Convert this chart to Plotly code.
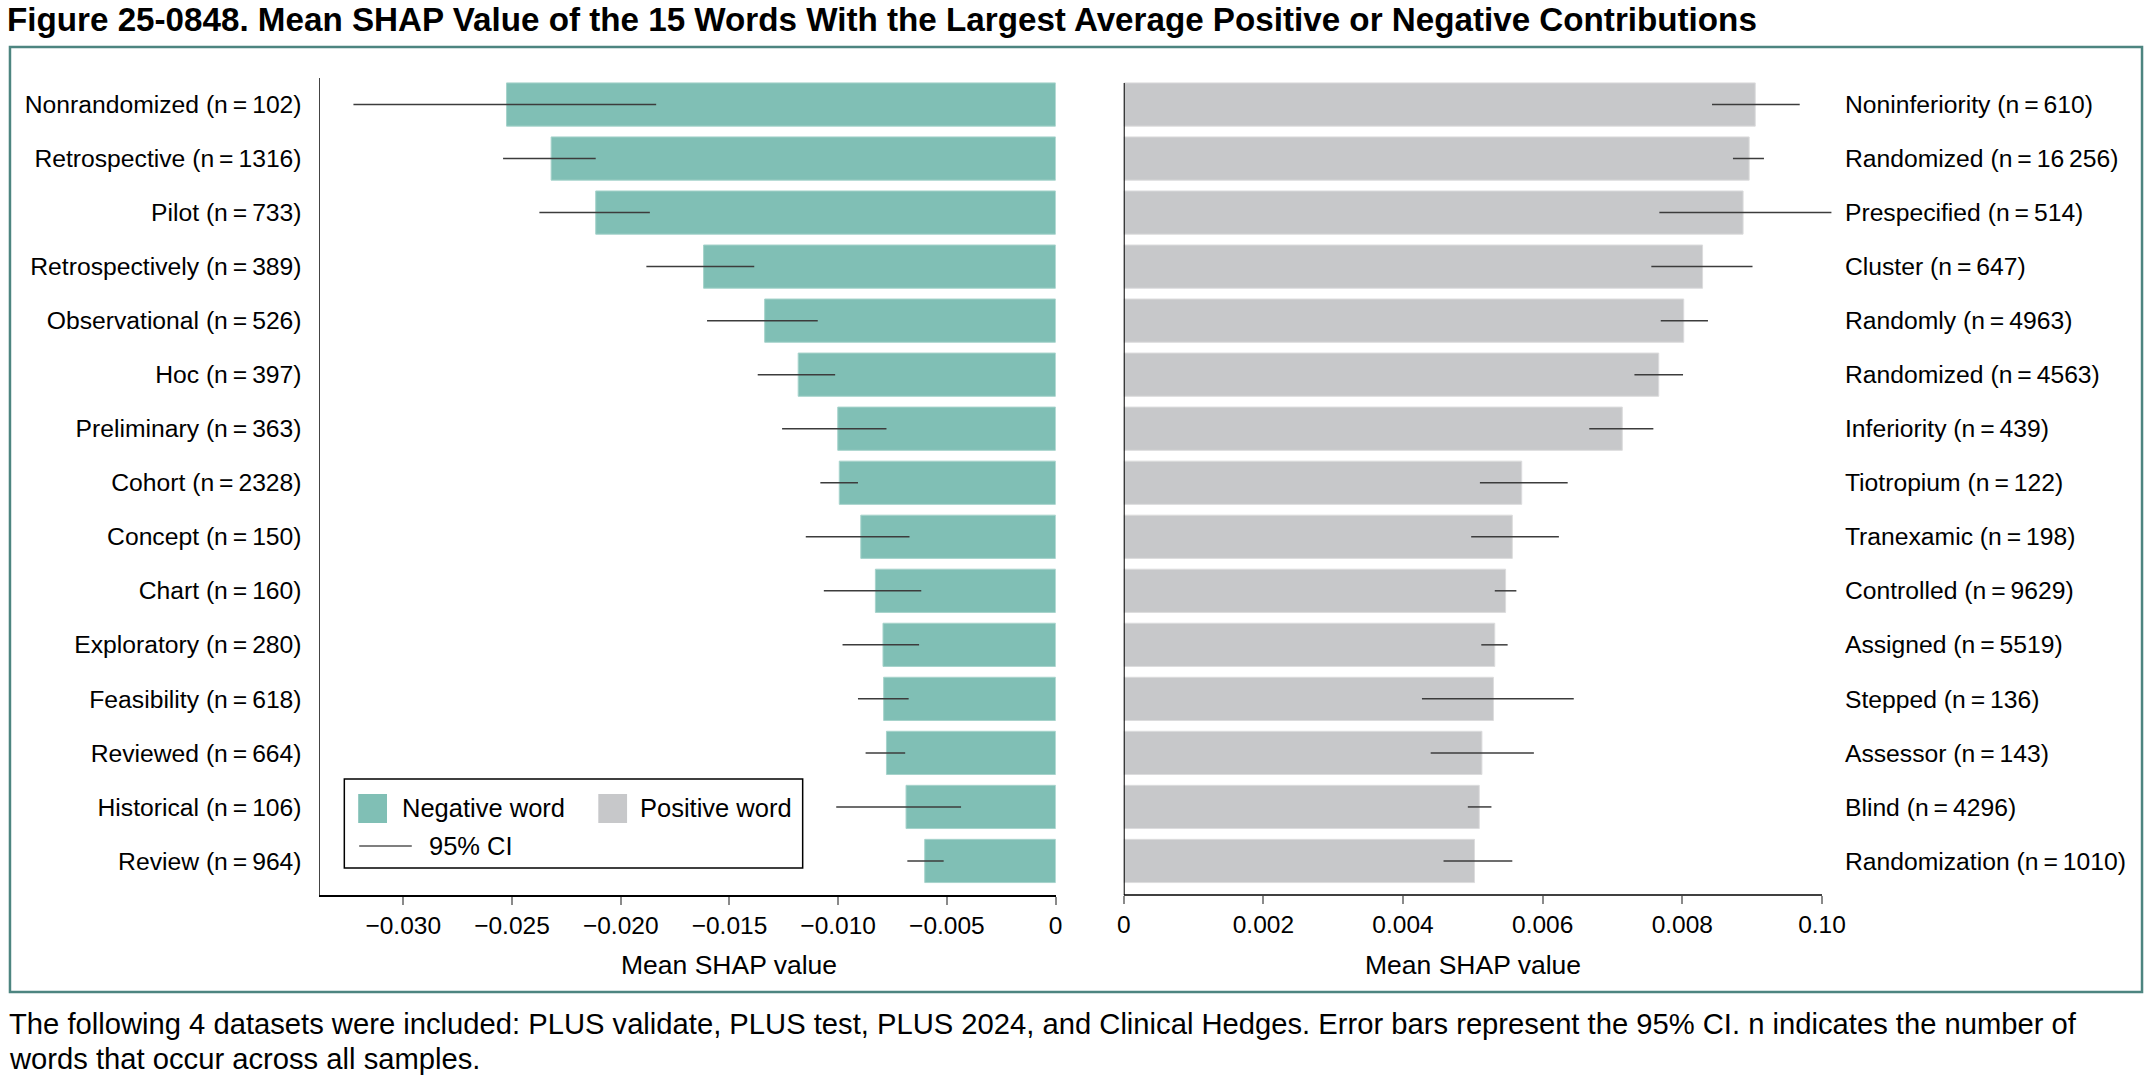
import plotly.graph_objects as go

W, H = 2155, 1077
FONT = "Liberation Sans, Arial, Helvetica, sans-serif"
TS = "\u2009"

# ---- data ----
neg_words = ["Nonrandomized", "Retrospective", "Pilot", "Retrospectively", "Observational",
             "Hoc", "Preliminary", "Cohort", "Concept", "Chart", "Exploratory",
             "Feasibility", "Reviewed", "Historical", "Review"]
neg_n = ["102", "1316", "733", "389", "526", "397", "363", "2328", "150", "160", "280",
         "618", "664", "106", "964"]
neg_mean = [-0.02525, -0.0232, -0.02115, -0.01619, -0.01338, -0.01184, -0.01002, -0.00995,
            -0.00896, -0.00829, -0.00794, -0.00791, -0.00778, -0.00688, -0.00602]
neg_lo = [-0.03229, -0.02541, -0.02374, -0.01882, -0.01603, -0.0137, -0.01258, -0.01082,
          -0.01149, -0.01066, -0.0098, -0.00909, -0.00874, -0.01009, -0.00682]
neg_hi = [-0.01837, -0.02115, -0.01866, -0.01386, -0.01094, -0.01014, -0.00778, -0.00909,
          -0.00672, -0.00618, -0.00628, -0.00676, -0.00692, -0.00435, -0.00515]

pos_words = ["Noninferiority", "Randomized", "Prespecified", "Cluster", "Randomly",
             "Randomized", "Inferiority", "Tiotropium", "Tranexamic", "Controlled",
             "Assigned", "Stepped", "Assessor", "Blind", "Randomization"]
pos_n = ["610", "16" + TS + "256", "514", "647", "4963", "4563", "439", "122", "198", "9629",
         "5519", "136", "143", "4296", "1010"]
pos_mean = [0.009044, 0.008957, 0.00887, 0.00829, 0.00802, 0.007662, 0.00714, 0.0057,
            0.005565, 0.005469, 0.005314, 0.005295, 0.00513, 0.005092, 0.005024]
pos_lo = [0.008425, 0.008725, 0.007671, 0.007556, 0.007691, 0.007314, 0.006667, 0.005101,
          0.004976, 0.005314, 0.005121, 0.004271, 0.004396, 0.004928, 0.00458]
pos_hi = [0.009681, 0.009169, 0.010135, 0.009005, 0.008367, 0.00801, 0.007585, 0.006358,
          0.006232, 0.005623, 0.005498, 0.006445, 0.005874, 0.005266, 0.005565]

neg_ticks = [-0.030, -0.025, -0.020, -0.015, -0.010, -0.005, 0]
neg_ticktext = ["\u22120.030", "\u22120.025", "\u22120.020", "\u22120.015", "\u22120.010", "\u22120.005", "0"]
pos_ticks = [0, 0.002, 0.004, 0.006, 0.008, 0.010]
pos_ticktext = ["0", "0.002", "0.004", "0.006", "0.008", "0.10"]

title_text = ("Figure 25-0848. Mean SHAP Value of the 15 Words With the Largest Average "
              "Positive or Negative Contributions")
caption1 = ("The following 4 datasets were included: PLUS validate, PLUS test, PLUS 2024, and "
            "Clinical Hedges. Error bars represent the 95% CI. n indicates the number of")
caption2 = "words that occur across all samples."

TEAL = "#80bfb5"
GRAY = "#c7c8ca"

def label(w, n):
    return f"{w} (n{TS}={TS}{n})"

neg_labels = [label(w, n) for w, n in zip(neg_words, neg_n)]
pos_labels = [label(w, n) for w, n in zip(pos_words, pos_n)]

def px(x):
    return x / W

def py(y):
    return 1 - y / H

fig = go.Figure()

fig.add_trace(go.Bar(
    x=neg_mean, y=neg_labels, orientation="h", width=0.8,
    marker=dict(color=TEAL, line=dict(color="#a6d3cb", width=1)),
    error_x=dict(type="data", symmetric=False,
                 array=[h - m for h, m in zip(neg_hi, neg_mean)],
                 arrayminus=[m - l for m, l in zip(neg_mean, neg_lo)],
                 color="#3c3c3c", thickness=1.5, width=0),
    xaxis="x", yaxis="y", showlegend=False,
))
fig.add_trace(go.Bar(
    x=pos_mean, y=pos_labels, orientation="h", width=0.8,
    marker=dict(color=GRAY, line=dict(color="#dcdcdd", width=1)),
    error_x=dict(type="data", symmetric=False,
                 array=[h - m for h, m in zip(pos_hi, pos_mean)],
                 arrayminus=[m - l for m, l in zip(pos_mean, pos_lo)],
                 color="#3c3c3c", thickness=1.5, width=0),
    xaxis="x2", yaxis="y2", showlegend=False,
))

ydom = [py(895), py(77.5)]
tickfont = dict(family=FONT, size=24.5, color="black")
labfont = dict(family=FONT, size=24.7, color="black")

fig.update_layout(
    width=W, height=H,
    margin=dict(l=0, r=0, t=0, b=0),
    paper_bgcolor="white", plot_bgcolor="white",
    font=dict(family=FONT, color="black"),
    title=dict(text=f"<b>{title_text}</b>", x=0, xanchor="left", xref="paper",
               y=py(19), yanchor="middle", yref="paper",
               font=dict(family=FONT, size=33.2, color="black")),
    bargap=0.2,
    xaxis=dict(domain=[px(315), px(1057)], range=[-0.03385, 0], anchor="y",
               tickmode="array", tickvals=neg_ticks, ticktext=neg_ticktext,
               ticks="outside", ticklen=8, tickwidth=1.5, tickcolor="#8a8a8a",
               showline=True, linecolor="black", linewidth=1.5,
               showgrid=False, zeroline=False, tickfont=tickfont),
    yaxis=dict(domain=ydom, anchor="x", type="category",
               categoryorder="array", categoryarray=neg_labels,
               range=[14.63, -0.5], showline=True, linecolor="#444", linewidth=1,
               ticks="", showgrid=False, zeroline=False, tickfont=labfont,
               ticklabelstandoff=12),
    xaxis2=dict(domain=[px(1125.6), px(1843.5)], range=[0, 0.0102], anchor="y2",
                tickmode="array", tickvals=pos_ticks, ticktext=pos_ticktext,
                ticks="outside", ticklen=8, tickwidth=1.5, tickcolor="#8a8a8a",
                showline=False, showgrid=False, zeroline=False, tickfont=tickfont),
    yaxis2=dict(domain=ydom, anchor="x2", side="right", type="category",
                categoryorder="array", categoryarray=pos_labels,
                range=[14.63, -0.5], showline=False, ticks="", showgrid=False,
                zeroline=False, tickfont=labfont, ticklabelstandoff=8),
)

shapes = [
    # outer frame
    dict(type="rect", xref="paper", yref="paper", x0=px(3), x1=px(2152), y0=py(992), y1=py(47),
         line=dict(color="#4d8580", width=2.5), fillcolor="rgba(0,0,0,0)", layer="below"),
    # right panel axis lines
    dict(type="line", xref="x2", yref="y2 domain", x0=0, x1=pos_ticks[-1], y0=0, y1=0,
         line=dict(color="black", width=1.5)),
    dict(type="line", xref="x2", yref="paper", x0=0, x1=0, y0=py(895), y1=py(83),
         line=dict(color="black", width=2)),
    # manual legend
    dict(type="rect", xref="paper", yref="paper", x0=px(340), x1=px(802), y0=py(868), y1=py(779),
         line=dict(color="black", width=1.5), fillcolor="white"),
    dict(type="rect", xref="paper", yref="paper", x0=px(354), x1=px(383), y0=py(823), y1=py(794),
         line=dict(width=0), fillcolor=TEAL),
    dict(type="rect", xref="paper", yref="paper", x0=px(596), x1=px(625), y0=py(823), y1=py(794),
         line=dict(width=0), fillcolor=GRAY),
    dict(type="line", xref="paper", yref="paper", x0=px(355), x1=px(408), y0=py(846), y1=py(846),
         line=dict(color="black", width=1.2)),
]
fig.update_layout(shapes=shapes)

ann = []
legfont = dict(family=FONT, size=25.5, color="black")
ann.append(dict(text="Negative word", x=px(396), y=py(808), xref="paper", yref="paper",
                xanchor="left", yanchor="middle", showarrow=False, font=legfont))
ann.append(dict(text="Positive word", x=px(636), y=py(808), xref="paper", yref="paper",
                xanchor="left", yanchor="middle", showarrow=False, font=legfont))
ann.append(dict(text="95% CI", x=px(423), y=py(846), xref="paper", yref="paper",
                xanchor="left", yanchor="middle", showarrow=False, font=legfont))
axtitle_font = dict(family=FONT, size=26.5, color="black")
ann.append(dict(text="Mean SHAP value", x=(neg_ticks[0] + neg_ticks[-1]) / 2, xref="x",
                y=py(965), yref="paper", xanchor="center", yanchor="middle",
                showarrow=False, font=axtitle_font))
ann.append(dict(text="Mean SHAP value", x=(pos_ticks[0] + pos_ticks[-1]) / 2, xref="x2",
                y=py(965), yref="paper", xanchor="center", yanchor="middle",
                showarrow=False, font=axtitle_font))
capfont = dict(family=FONT, size=29.2, color="black")
ann.append(dict(text=caption1, x=0, y=py(1024), xref="paper", yref="paper",
                xanchor="left", yanchor="middle", showarrow=False, font=capfont))
ann.append(dict(text=caption2, x=0, y=py(1059), xref="paper", yref="paper",
                xanchor="left", yanchor="middle", showarrow=False, font=capfont))
fig.update_layout(annotations=ann)

fig.write_html("out.html", config={"displayModeBar": False},
               post_script="document.body.style.margin='0px';")
